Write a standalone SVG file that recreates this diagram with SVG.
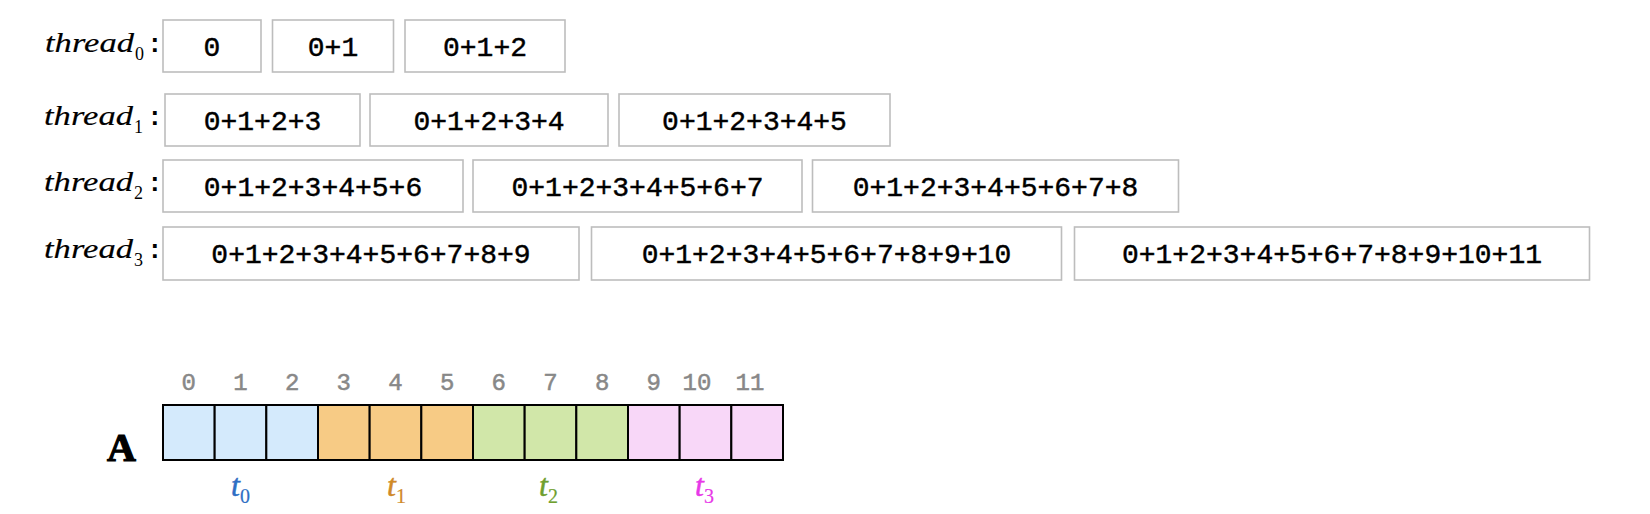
<svg xmlns="http://www.w3.org/2000/svg" width="1650" height="514" viewBox="0 0 1650 514">
<style>
.box{fill:#fff;stroke:#bdbdbd;stroke-width:1.6}
.bt{font-family:"Liberation Mono",monospace;font-size:28px;fill:#000;stroke:#000;stroke-width:0.45;text-anchor:middle}
.lab{font-family:"Liberation Serif",serif;font-style:italic;font-size:27px;fill:#000;stroke:#000;stroke-width:0.15}
.sub{font-family:"Liberation Serif",serif;font-size:18px;fill:#000}
.colon{font-family:"Liberation Mono",monospace;font-weight:bold;font-size:26px;fill:#000}
.cell{stroke:#000;stroke-width:2}
.idx{font-family:"Liberation Mono",monospace;font-size:24px;fill:#888;stroke:#888;stroke-width:0.5;text-anchor:middle}
.tl{font-family:"Liberation Serif",serif;font-style:italic;font-size:32px;stroke-width:0.5}
.tsub{font-family:"Liberation Serif",serif;font-style:normal;font-size:20px;stroke-width:0.2}
</style>
<rect width="1650" height="514" fill="#fff"/>
<g id="label-thread0"><text class="lab" x="45" y="52" textLength="89" lengthAdjust="spacingAndGlyphs">thread</text><text class="sub" x="135" y="60">0</text><text class="colon" x="147" y="52">:</text></g>
<g id="label-thread1"><text class="lab" x="44" y="125" textLength="89" lengthAdjust="spacingAndGlyphs">thread</text><text class="sub" x="134" y="133">1</text><text class="colon" x="147" y="125">:</text></g>
<g id="label-thread2"><text class="lab" x="44" y="191" textLength="89" lengthAdjust="spacingAndGlyphs">thread</text><text class="sub" x="134" y="199">2</text><text class="colon" x="147" y="191">:</text></g>
<g id="label-thread3"><text class="lab" x="44" y="258" textLength="89" lengthAdjust="spacingAndGlyphs">thread</text><text class="sub" x="134" y="266">3</text><text class="colon" x="147" y="258">:</text></g>

<g id="r0b0"><rect class="box" x="163" y="20" width="98" height="52"/><text class="bt" x="212" y="56">0</text></g>
<g id="r0b1"><rect class="box" x="272.5" y="20" width="121" height="52"/><text class="bt" x="333" y="56">0+1</text></g>
<g id="r0b2"><rect class="box" x="405" y="20" width="160" height="52"/><text class="bt" x="485" y="56">0+1+2</text></g>

<g id="r1b0"><rect class="box" x="165" y="94" width="195" height="52"/><text class="bt" x="262.5" y="130">0+1+2+3</text></g>
<g id="r1b1"><rect class="box" x="370" y="94" width="238" height="52"/><text class="bt" x="489" y="130">0+1+2+3+4</text></g>
<g id="r1b2"><rect class="box" x="619" y="94" width="271" height="52"/><text class="bt" x="754.5" y="130">0+1+2+3+4+5</text></g>

<g id="r2b0"><rect class="box" x="163" y="160" width="300" height="52"/><text class="bt" x="313" y="196">0+1+2+3+4+5+6</text></g>
<g id="r2b1"><rect class="box" x="473" y="160" width="329" height="52"/><text class="bt" x="637.5" y="196">0+1+2+3+4+5+6+7</text></g>
<g id="r2b2"><rect class="box" x="812.5" y="160" width="366" height="52"/><text class="bt" x="995.5" y="196">0+1+2+3+4+5+6+7+8</text></g>

<g id="r3b0"><rect class="box" x="163" y="227" width="416" height="53"/><text class="bt" x="371" y="263">0+1+2+3+4+5+6+7+8+9</text></g>
<g id="r3b1"><rect class="box" x="591.5" y="227" width="470" height="53"/><text class="bt" x="826.5" y="263">0+1+2+3+4+5+6+7+8+9+10</text></g>
<g id="r3b2"><rect class="box" x="1074.5" y="227" width="515" height="53"/><text class="bt" x="1332" y="263">0+1+2+3+4+5+6+7+8+9+10+11</text></g>

<g id="array-A">
<text x="107" y="461" font-family="Liberation Serif,serif" font-weight="bold" font-size="40" fill="#000" stroke="#000" stroke-width="1.2">A</text>
<rect class="cell" x="163" y="405" width="51.67" height="55" fill="#d4eafc"/>
<rect class="cell" x="214.67" y="405" width="51.67" height="55" fill="#d4eafc"/>
<rect class="cell" x="266.33" y="405" width="51.67" height="55" fill="#d4eafc"/>
<rect class="cell" x="318" y="405" width="51.67" height="55" fill="#f7cb85"/>
<rect class="cell" x="369.67" y="405" width="51.67" height="55" fill="#f7cb85"/>
<rect class="cell" x="421.33" y="405" width="51.67" height="55" fill="#f7cb85"/>
<rect class="cell" x="473" y="405" width="51.67" height="55" fill="#d1e7a9"/>
<rect class="cell" x="524.67" y="405" width="51.67" height="55" fill="#d1e7a9"/>
<rect class="cell" x="576.33" y="405" width="51.67" height="55" fill="#d1e7a9"/>
<rect class="cell" x="628" y="405" width="51.67" height="55" fill="#f8d7f8"/>
<rect class="cell" x="679.67" y="405" width="51.67" height="55" fill="#f8d7f8"/>
<rect class="cell" x="731.33" y="405" width="51.67" height="55" fill="#f8d7f8"/>
<text class="idx" x="188.8" y="390">0</text>
<text class="idx" x="240.5" y="390">1</text>
<text class="idx" x="292.2" y="390">2</text>
<text class="idx" x="343.8" y="390">3</text>
<text class="idx" x="395.5" y="390">4</text>
<text class="idx" x="447.2" y="390">5</text>
<text class="idx" x="498.8" y="390">6</text>
<text class="idx" x="550.5" y="390">7</text>
<text class="idx" x="602.2" y="390">8</text>
<text class="idx" x="653.8" y="390">9</text>
<text class="idx" x="697" y="390">10</text>
<text class="idx" x="750" y="390">11</text>
</g>
<g id="t-labels">
<text class="tl" x="231" y="496" fill="#2f6fc4" stroke="#2f6fc4">t<tspan class="tsub" dy="7">0</tspan></text>
<text class="tl" x="387" y="496" fill="#d08a28" stroke="#d08a28">t<tspan class="tsub" dy="7">1</tspan></text>
<text class="tl" x="539" y="496" fill="#6f9f2f" stroke="#6f9f2f">t<tspan class="tsub" dy="7">2</tspan></text>
<text class="tl" x="695" y="496" fill="#e838e8" stroke="#e838e8">t<tspan class="tsub" dy="7">3</tspan></text>
</g>
</svg>
